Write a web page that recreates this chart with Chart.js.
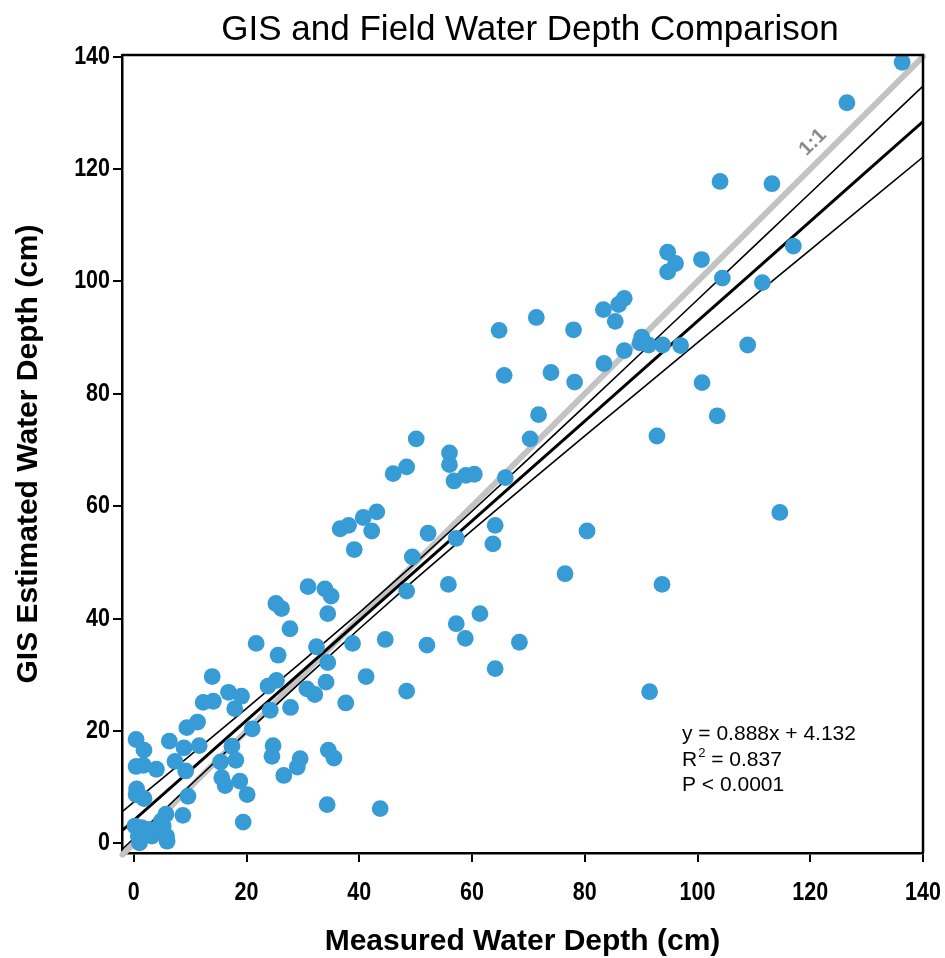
<!DOCTYPE html>
<html>
<head>
<meta charset="utf-8">
<script src="https://cdn.jsdelivr.net/npm/chart.js@4.4.1/dist/chart.umd.min.js"></script>
<style>
  body { margin: 0; background: #fff; }
  #wrap { width: 945px; height: 958px; }
</style>
</head>
<body>
<div id="wrap"><canvas id="depthChart" width="945" height="958"></canvas></div>
<script>
// field measured depth (cm) vs GIS estimated depth (cm)
const measured = [
  16.8, 19.1, 23.8, 25.3, 30.7, 12.3, 14.1, 17.9, 27.8, 24.2,
  11.3, 9.4, 21.0, 0.4, 1.8, 6.3, 8.9, 11.6, 17.4, 24.7,
  24.5, 29.5, 29.0, 0.4, 1.7, 4.0, 7.3, 9.2, 15.4, 18.1,
  26.6, 0.5, 0.4, 1.8, 15.6, 16.2, 18.8, 20.1, 9.6, 8.7,
  5.7, 4.9, 19.4, 0.2, 1.4, 0.8, 1.0, 2.6, 3.2, 4.3,
  5.8, 5.9, 5.2, 13.9,
  43.1, 40.7, 42.2, 36.6, 38.1, 39.1, 52.2, 49.4, 55.8, 48.4,
  30.9, 33.9, 35.0, 25.2, 26.2, 34.4, 27.7, 21.7, 25.6, 32.4,
  38.8, 44.6, 52.0, 34.4, 41.2, 34.1, 32.1, 37.6, 48.4, 34.5,
  35.5, 34.3, 43.7,
  71.8, 70.3, 50.1, 56.0, 56.0, 48.4, 46.0, 56.8, 58.9, 60.4,
  65.9, 57.2, 64.1, 63.7, 76.5, 61.4, 57.2, 58.8, 68.4, 64.1,
  65.7, 64.8, 71.4, 74.0,
  94.7, 96.1, 94.7, 100.7, 104.4, 111.5, 87.0, 86.0, 83.3, 85.4,
  78.0, 90.1, 89.8, 91.3, 93.8, 97.0, 87.0, 108.9, 83.4, 78.2,
  100.8, 103.5, 92.8, 114.6, 80.4, 93.7, 91.5, 136.3, 126.5, 104.0,
  113.2, 117.0
];
const estimated = [
  26.9, 26.2, 28.0, 29.0, 27.5, 25.1, 25.3, 24.0, 24.2, 23.7,
  21.6, 20.6, 20.4, 18.5, 16.6, 18.2, 17.0, 17.4, 17.3, 17.4,
  15.5, 15.1, 13.6, 13.7, 13.9, 13.2, 14.6, 12.9, 14.5, 14.8,
  12.1, 9.7, 8.7, 8.0, 11.7, 10.3, 11.1, 8.7, 8.4, 5.0,
  5.2, 4.0, 3.8, 3.1, 2.8, 1.3, 0.1, 2.5, 1.3, 2.8,
  1.3, 0.4, 3.1, 29.7,
  59.0, 58.0, 55.6, 56.0, 56.6, 52.3, 55.2, 51.0, 46.1, 44.9,
  45.7, 45.3, 44.0, 42.7, 41.8, 40.9, 38.2, 35.6, 33.5, 35.0,
  35.6, 36.3, 35.3, 32.2, 29.7, 28.7, 26.5, 25.0, 27.1, 16.6,
  15.2, 6.9, 6.2,
  76.3, 72.0, 72.0, 69.5, 67.4, 67.0, 65.8, 64.5, 65.5, 65.7,
  65.1, 54.3, 56.6, 53.3, 48.0, 40.9, 39.1, 36.5, 35.8, 31.1,
  83.3, 91.3, 93.6, 83.8,
  105.2, 103.2, 101.7, 103.9, 100.6, 99.8, 97.0, 95.9, 95.0, 92.9,
  91.4, 90.1, 89.1, 88.7, 88.7, 88.6, 87.7, 88.7, 85.4, 82.1,
  82.0, 76.1, 72.5, 58.9, 55.6, 46.1, 27.0, 139.0, 131.8, 117.8,
  117.4, 106.3
];

// fitted line y = 0.888x + 4.132 with its confidence band
const fitX = [-2, 10, 20, 30, 40, 50, 60, 70, 80, 90, 100, 110, 120, 130, 140];
const fitY = [2.36, 13.01, 21.89, 30.77, 39.65, 48.53, 57.41, 66.29, 75.17, 84.05, 92.93, 101.81, 110.69, 119.57, 128.45];
const bandUpper = [5.71, 15.67, 24.03, 32.47, 41.09, 49.97, 59.11, 68.43, 77.83, 87.28, 96.75, 106.24, 115.74, 125.24, 134.75];
const bandLower = [-0.99, 10.35, 19.75, 29.07, 38.21, 47.09, 55.71, 64.15, 72.51, 80.82, 89.11, 97.38, 105.64, 113.90, 122.15];

const oneToOne = [-2, 140];
const tickVals = [0, 20, 40, 60, 80, 100, 120, 140];

const toPts = (xs, ys) => xs.map((x, i) => ({ x: x, y: ys[i] }));

const titleBold = { family: "'Liberation Sans', Arial, sans-serif", size: 30, weight: 'bold', lineHeight: 1.1 };
const sans = "'Liberation Sans', Arial, sans-serif";

// tick labels are drawn here so they can be squeezed like the original's narrow bold face
function drawNarrow(ctx, text, x, y, align) {
  ctx.save();
  ctx.translate(x, y);
  ctx.scale(0.86, 1);
  ctx.textAlign = align;
  ctx.textBaseline = 'middle';
  ctx.fillText(text, 0, 0);
  ctx.restore();
}

const extras = {
  id: 'extras',
  afterDraw(chart) {
    const ctx = chart.ctx;
    const a = chart.chartArea;
    const xs = chart.scales.x;
    const ys = chart.scales.y;
    ctx.save();
    // top and right frame
    ctx.strokeStyle = '#000';
    ctx.lineWidth = 2.5;
    ctx.beginPath();
    ctx.moveTo(a.left, a.top);
    ctx.lineTo(a.right, a.top);
    ctx.lineTo(a.right, a.bottom);
    ctx.stroke();

    // tick labels
    ctx.fillStyle = '#000';
    ctx.font = 'bold 25px ' + sans;
    tickVals.forEach(v => {
      drawNarrow(ctx, String(v), xs.getPixelForValue(v), a.bottom + 40, 'center');
      drawNarrow(ctx, String(v), a.left - 12, ys.getPixelForValue(v), 'right');
    });

    // title
    ctx.font = '35px ' + sans;
    ctx.textAlign = 'center';
    ctx.textBaseline = 'alphabetic';
    ctx.fillText('GIS and Field Water Depth Comparison', 530, 40);

    // regression stats
    ctx.textAlign = 'left';
    ctx.font = '21px ' + sans;
    const tx = 682;
    ctx.fillText('y = 0.888x + 4.132', tx, 740);
    ctx.fillText('R', tx, 766);
    let w = ctx.measureText('R').width;
    ctx.font = '13px ' + sans;
    ctx.fillText('2', tx + w + 1, 757);
    w += ctx.measureText('2').width + 1;
    ctx.font = '21px ' + sans;
    ctx.fillText(' = 0.837', tx + w, 766);
    ctx.fillText('P < 0.0001', tx, 791);

    // 1:1 label along the grey line
    const px = xs.getPixelForValue(122.6);
    const py = ys.getPixelForValue(122.6);
    const ang = Math.atan2(ys.getPixelForValue(140) - ys.getPixelForValue(0),
                           xs.getPixelForValue(140) - xs.getPixelForValue(0));
    ctx.translate(px, py);
    ctx.rotate(ang);
    ctx.fillStyle = '#8a8a8a';
    ctx.font = 'bold 20px ' + sans;
    ctx.textAlign = 'center';
    ctx.textBaseline = 'middle';
    ctx.fillText('1:1', 0, -17);
    ctx.restore();
  }
};

const ctxEl = document.getElementById('depthChart').getContext('2d');
const depthChart = new Chart(ctxEl, {
  type: 'scatter',
  data: {
    datasets: [
      {
        data: toPts(measured, estimated),
        backgroundColor: '#379bd5',
        borderWidth: 0,
        pointRadius: 8.4,
        order: 0,
      },
      {
        data: toPts(fitX, fitY),
        showLine: true,
        borderColor: '#000',
        borderWidth: 3,
        pointRadius: 0,
        order: 1,
      },
      {
        data: toPts(fitX, bandUpper),
        showLine: true,
        borderColor: '#000',
        borderWidth: 1.6,
        pointRadius: 0,
        order: 2,
      },
      {
        data: toPts(fitX, bandLower),
        showLine: true,
        borderColor: '#000',
        borderWidth: 1.6,
        pointRadius: 0,
        order: 2,
      },
      {
        data: toPts(oneToOne, oneToOne),
        showLine: true,
        borderColor: '#c3c3c3',
        borderWidth: 6,
        borderCapStyle: 'round',
        pointRadius: 0,
        clip: false,
        order: 3,
      },
    ],
  },
  options: {
    responsive: false,
    animation: false,
    layout: { padding: { top: 55, right: 22, left: 0, bottom: 0 } },
    plugins: {
      legend: { display: false },
      tooltip: { enabled: false },
    },
    scales: {
      x: {
        type: 'linear',
        min: -2.1,
        max: 140,
        afterFit: s => { s.height = 105; s.paddingLeft = 0; s.paddingRight = 0; },
        afterBuildTicks: s => { s.ticks = tickVals.map(v => ({ value: v })); },
        border: { display: true, color: '#000', width: 2.5 },
        grid: { drawOnChartArea: false, drawTicks: true, tickLength: 9, color: '#000', lineWidth: 2 },
        ticks: { display: false },
        title: { display: true, text: 'Measured Water Depth (cm)', color: '#000', font: titleBold, padding: { top: 0, bottom: 0 } },
      },
      y: {
        type: 'linear',
        min: -1.7,
        max: 140.3,
        afterFit: s => { s.width = 122; s.paddingTop = 0; s.paddingBottom = 0; },
        afterBuildTicks: s => { s.ticks = tickVals.map(v => ({ value: v })); },
        border: { display: true, color: '#000', width: 2.5 },
        grid: { drawOnChartArea: false, drawTicks: true, tickLength: 9, color: '#000', lineWidth: 2 },
        ticks: { display: false },
        title: { display: true, text: 'GIS Estimated Water Depth (cm)', color: '#000', font: titleBold, padding: { top: 12, bottom: 0 } },
      },
    },
  },
  plugins: [extras],
});
</script>
</body>
</html>
